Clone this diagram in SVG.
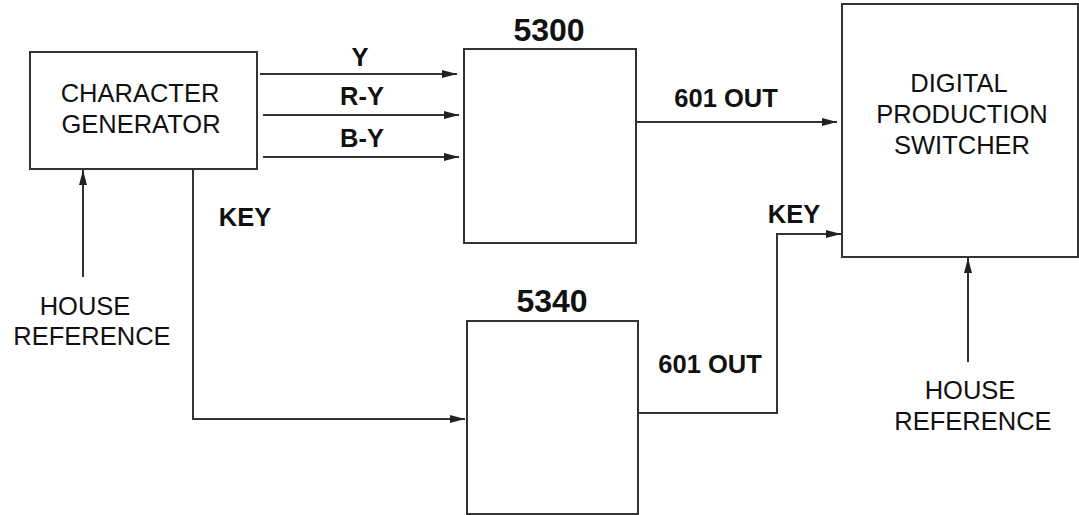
<svg xmlns="http://www.w3.org/2000/svg" width="1079" height="515" viewBox="0 0 1079 515">
<style>
.box{fill:#fff;stroke:#333;stroke-width:2}
.ln{fill:none;stroke:#333;stroke-width:2}
.t{font-family:"Liberation Sans",Arial,sans-serif;font-size:25.5px;fill:#111;text-anchor:middle}
.b{font-family:"Liberation Sans",Arial,sans-serif;font-size:25.5px;font-weight:bold;fill:#111;text-anchor:middle}
.h{font-family:"Liberation Sans",Arial,sans-serif;font-size:32px;font-weight:bold;fill:#111;text-anchor:middle}
</style>
<defs>
<marker id="ar" viewBox="0 0 15 8" refX="15" refY="4" markerWidth="15" markerHeight="8" markerUnits="userSpaceOnUse" orient="auto">
<path d="M0,0 L15,4 L0,8 z" fill="#222"/>
</marker>
</defs>
<rect width="1079" height="515" fill="#fff"/>
<g id="character-generator">
<rect class="box" x="30" y="52" width="227" height="117"/>
<text class="t" x="140" y="102">CHARACTER</text>
<text class="t" x="141" y="133">GENERATOR</text>
</g>
<g id="n5300">
<rect class="box" x="464" y="49" width="172" height="194"/>
<text class="h" x="549" y="41">5300</text>
</g>
<g id="n5340">
<rect class="box" x="467" y="321" width="171" height="193"/>
<text class="h" x="552" y="312">5340</text>
</g>
<g id="switcher">
<rect class="box" x="842" y="4" width="236" height="253"/>
<text class="t" x="959" y="92">DIGITAL</text>
<text class="t" x="962" y="123">PRODUCTION</text>
<text class="t" x="962" y="154">SWITCHER</text>
</g>
<g id="house-ref-left">
<text class="t" x="85" y="315">HOUSE</text>
<text class="t" x="92" y="345">REFERENCE</text>
</g>
<g id="house-ref-right">
<text class="t" x="970" y="399">HOUSE</text>
<text class="t" x="973" y="430">REFERENCE</text>
</g>
<g id="connectors">
<line class="ln" x1="260" y1="74" x2="457" y2="74" marker-end="url(#ar)"/>
<line class="ln" x1="263" y1="115" x2="459" y2="115" marker-end="url(#ar)"/>
<line class="ln" x1="263" y1="157" x2="459" y2="157" marker-end="url(#ar)"/>
<line class="ln" x1="637" y1="122" x2="837" y2="122" marker-end="url(#ar)"/>
<polyline class="ln" points="193,169 193,419 465,419" marker-end="url(#ar)"/>
<polyline class="ln" points="639,413 777,413 777,234 841,234" marker-end="url(#ar)"/>
<line class="ln" x1="83" y1="277" x2="83" y2="170" marker-end="url(#ar)"/>
<line class="ln" x1="968" y1="362" x2="968" y2="258" marker-end="url(#ar)"/>
<text class="b" x="360" y="66">Y</text>
<text class="b" x="362" y="105">R-Y</text>
<text class="b" x="362" y="147">B-Y</text>
<text class="b" x="726" y="107">601 OUT</text>
<text class="b" x="245" y="226">KEY</text>
<text class="b" x="794" y="223">KEY</text>
<text class="b" x="710" y="373">601 OUT</text>
</g>
</svg>
